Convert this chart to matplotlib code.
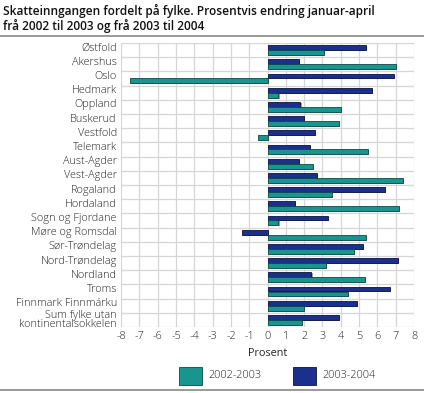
import matplotlib
matplotlib.use("Agg")
import matplotlib.pyplot as plt
import matplotlib.transforms as mtransforms
import numpy as np
from matplotlib.patches import Rectangle
from matplotlib.lines import Line2D

categories = ["Østfold", "Akershus", "Oslo", "Hedmark", "Oppland", "Buskerud",
              "Vestfold", "Telemark", "Aust-Agder", "Vest-Agder", "Rogaland",
              "Hordaland", "Sogn og Fjordane", "Møre og Romsdal", "Sør-Trøndelag",
              "Nord-Trøndelag", "Nordland", "Troms", "Finnmark Finnmárku",
              "Sum fylke utan\nkontinentalsokkelen"]
v_2002_2003 = [3.1, 7.0, -7.5, 0.6, 4.0, 3.9, -0.5, 5.5, 2.5, 7.4, 3.5, 7.2,
               0.6, 5.4, 4.7, 3.2, 5.3, 4.4, 2.0, 1.9]
v_2003_2004 = [5.4, 1.7, 6.9, 5.7, 1.8, 2.0, 2.6, 2.3, 1.7, 2.7, 6.4, 1.5,
               3.3, -1.4, 5.2, 7.1, 2.4, 6.7, 4.9, 3.9]
xticks = list(range(-8, 9))

teal = "#199590"
navy = "#1b2f8c"
plt.rcParams['font.family'] = ["Open Sans", 'DejaVu Sans']
plt.rcParams['font.weight'] = 300
fs = 7.8
tc = "#222222"

fig = plt.figure(figsize=(4.24, 3.93), dpi=100)
W, H = 424, 393
ax = fig.add_axes([121 / W, 1 - 327 / H, (414 - 121) / W, (327 - 43) / H])

n = len(categories)
y = np.arange(n)
bh = 0.34
sx, sy = 0.06, 0.07
sh1 = ax.barh(y - bh / 2 + sy, v_2003_2004, height=bh, color="#9a9a9a", zorder=2)
sh2 = ax.barh(y + bh / 2 + sy, v_2002_2003, height=bh, color="#9a9a9a", zorder=2)
for bars in (sh1, sh2):
    for b in bars:
        b.set_x(b.get_x() + sx)
ax.barh(y - bh / 2, v_2003_2004, height=bh, color=navy, edgecolor="#0a1240", linewidth=0.6, zorder=3)
ax.barh(y + bh / 2, v_2002_2003, height=bh, color=teal, edgecolor="#0b4a47", linewidth=0.6, zorder=3)

ax.set_xlim(-8, 8)
ax.set_ylim(n - 0.5, -0.5)
ax.set_xticks(xticks)
ax.set_xticklabels([str(t) for t in xticks], fontsize=fs, color=tc)
ax.set_yticks(y)
ax.set_yticklabels(categories, fontsize=fs, color=tc, linespacing=0.72)
ax.tick_params(length=0, pad=3)
ax.set_yticks(np.arange(-0.5, n, 1), minor=True)
ax.tick_params(which="minor", length=0)
ax.grid(True, axis="x", which="major", color="#d6d6d6", linewidth=0.9, zorder=0)
ax.grid(True, axis="y", which="minor", color="#d6d6d6", linewidth=0.9, zorder=0)
ax.set_axisbelow(True)
for s in ax.spines.values():
    s.set_visible(False)
ax.set_xlabel("Prosent", fontsize=fs, color=tc, labelpad=4)

up = mtransforms.ScaledTranslation(0, 3.5 / 100, fig.dpi_scale_trans)
for i, lab in enumerate(ax.get_yticklabels()):
    if i < n - 1:
        lab.set_transform(lab.get_transform() + up)

fig.text(3 / W, 1 - 4 / H, "Skatteinngangen fordelt på fylke. Prosentvis endring januar-april\nfrå 2002 til 2003 og frå 2003 til 2004",
         fontsize=8.6, fontweight=600, va="top", ha="left", color="#111111", linespacing=1.1)
fig.add_artist(Line2D([0, 1], [1 - 36 / H, 1 - 36 / H], color="#888888", linewidth=1.2))
fig.add_artist(Line2D([0, 1], [1 - 390 / H, 1 - 390 / H], color="#888888", linewidth=1.2))

# legend
fig.add_artist(Rectangle((179 / W, 1 - 385 / H), 23 / W, 18 / H, facecolor=teal, edgecolor="#0b4a47", linewidth=0.6))
fig.text(208 / W, 1 - 376 / H, "2002-2003", fontsize=fs, va="center", ha="left", color=tc)
fig.add_artist(Rectangle((293 / W, 1 - 385 / H), 23 / W, 18 / H, facecolor=navy, edgecolor="#0a1240", linewidth=0.6))
fig.text(322 / W, 1 - 376 / H, "2003-2004", fontsize=fs, va="center", ha="left", color=tc)

fig.savefig("out.png", dpi=100)
